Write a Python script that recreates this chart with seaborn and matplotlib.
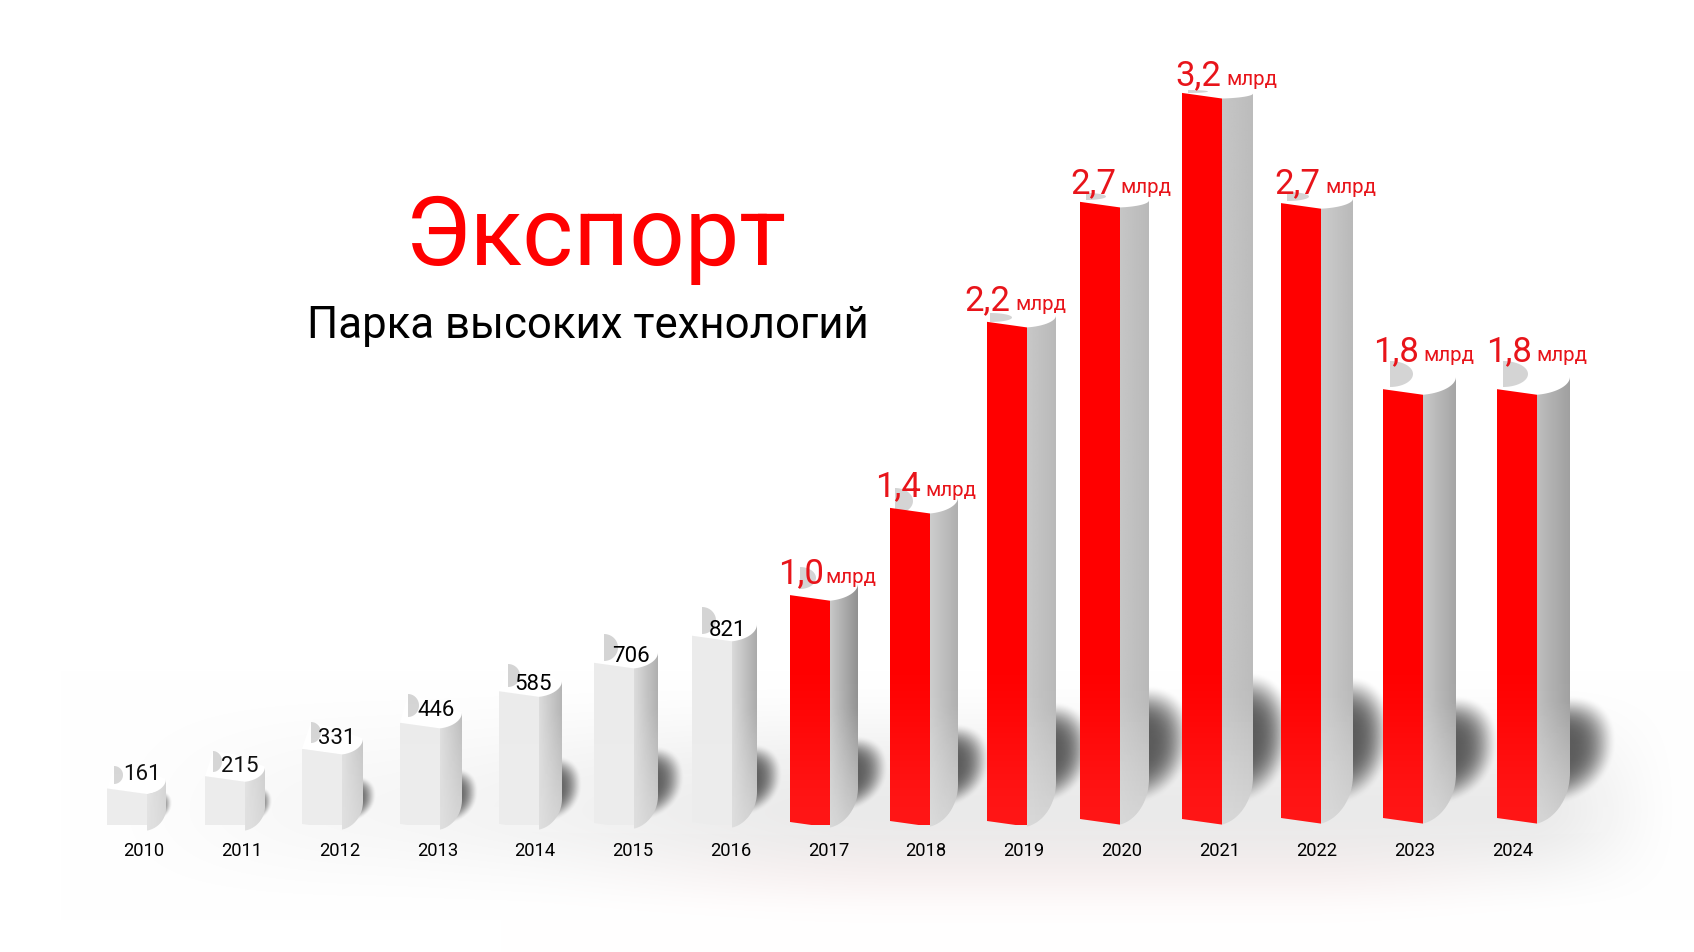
#!/usr/bin/env python3
"""Экспорт Парка высоких технологий - 3D-looking bars on a seaborn barplot"""

import numpy as np
import matplotlib
matplotlib.use('Agg')
import matplotlib.pyplot as plt
from matplotlib.patches import Polygon
from matplotlib.transforms import Affine2D
import seaborn as sns

# data (mln USD; bar heights, the rounded text is below)
years = [2010, 2011, 2012, 2013, 2014, 2015, 2016, 2017, 2018, 2019, 2020, 2021, 2022, 2023, 2024]
export_mln = [161, 215, 331, 446, 585, 706, 821, 1000, 1380, 2200, 2720, 3200, 2710, 1890, 1890]
small_labels = ['161', '215', '331', '446', '585', '706', '821']
big_labels = ['1,0', '1,4', '2,2', '2,7', '3,2', '2,7', '1,8', '1,8']

W, H = 1694, 952
BASE_Y = 825          # pixel row of value 0
PX_PER_UNIT = 0.2269
SLOT = 97.75
FIRST_TICK = 144
FRONT_W = 40
SHEAR = -0.14

# bars are not evenly spaced in the original, all of this is pixels
front_left = [107, 205, 302, 400, 499, 594, 692, 790, 890, 987, 1080, 1182, 1281, 1383, 1497]
base_left = [825, 825, 824, 824, 824, 823, 822, 822, 821, 821, 819, 819, 818, 818, 818]
side_w = [19, 20, 21, 22, 23, 24, 25, 28, 28, 29, 29, 31, 32, 33, 33]
top_rise = [15, 15, 16, 16, 16, 16, 17, 17, 16, 12, 7, 5, 10, 18, 18]
bottom_rise = [22, 24, 28, 30, 31, 33, 36, 40, 42, 44, 46, 48, 49, 50, 51]
side_light = [232, 228, 224, 222, 220, 220, 218, 200, 205, 200, 198, 198, 204, 200, 190]
side_dark = [200, 196, 190, 186, 180, 175, 170, 145, 175, 185, 185, 188, 185, 165, 160]

lens_x = [114, 213, 311, 408, 508, 604, 702, 800, 895, 990, 1086, 1188, 1287, 1390, 1503]
lens_w = [9, 9, 10, 11, 12, 14, 14, 16, 18, 22, 20, 20, 22, 23, 25]
lens_top = [766, 751, 722, 694, 664, 634, 607, 567, 488, 313, 193, 90, 192, 361, 361]
lens_bot = [784, 772, 743, 717, 687, 661, 634, 589, 514, 322, 200, 93, 201, 387, 387]

# shadow: reach to the right, top row, bottom row
shadow_reach = [172, 272, 376, 478, 582, 684, 782, 888, 990, 1092, 1192, 1292, 1392, 1498, 1616]
shadow_top = [790, 786, 776, 768, 756, 746, 744, 736, 724, 702, 686, 672, 676, 696, 696]
shadow_bot = [822, 822, 822, 824, 822, 820, 816, 812, 808, 805, 805, 805, 805, 805, 805]

small_x = [142, 240, 337, 436, 533, 631, 728]
small_y = [775, 767, 738, 710, 685, 657, 631]
big_x = [778, 875, 964, 1070, 1175, 1274, 1373, 1486]
big_unit_x = [825, 925, 1015, 1120, 1226, 1325, 1423, 1536]
big_y = [583, 496, 310, 193, 85, 193, 361, 361]

RED = '#ff0000'
sns.set_theme(style='white')
plt.rcParams['font.family'] = ['Roboto', 'DejaVu Sans']


def arc(x0, y0, w, rise, n=24):
    """Quarter curve from the front corner up to the vertical edge of the side"""
    t = np.linspace(0.0, np.pi / 2, n)
    return x0 + w * np.sin(t), y0 - rise * (0.25 * t / (np.pi / 2) + 0.75 * (1 - np.cos(t)))


def smooth(v):
    v = np.clip(v, 0, 1)
    return v * v * (3 - 2 * v)


fig = plt.figure(figsize=(W / 100, H / 100), dpi=100, facecolor='white')

# pixel layer underneath: floor, shadows, side faces
bg = fig.add_axes([0, 0, 1, 1])
yy, xx = np.mgrid[0:H, 0:W]
ramp = (0.35 * smooth((xx - 60) / 300.0) + 0.65 * smooth((xx - 300) / 600.0)) * smooth((1694 - xx) / 170.0)
haze = 0.085 * ramp * smooth(1 - np.abs(yy - 810) / np.where(yy < 810, 140.0, 110.0))
shade = np.ones((H, W))
for i in range(len(years)):
    right = front_left[i] + FRONT_W + side_w[i]
    cx = right - 14
    rx = shadow_reach[i] - cx
    cy = (shadow_top[i] + shadow_bot[i]) / 2
    ry = (shadow_bot[i] - shadow_top[i]) / 2
    # tilted so the foot of the blob runs down to the corner of the bar
    dy = yy - cy + 0.18 * (xx - cx)
    d = (np.abs(xx - cx) / rx) ** 2.2 + (np.abs(dy) / ry) ** 2.2
    shade *= 1 - 0.66 * smooth((1 - d) / 1.0)
rgb = np.dstack([shade * (1 - haze)] * 3)
pink = 0.025 * smooth((xx - 500) / 400.0) * smooth((1600 - xx) / 300.0) * np.exp(-((yy - 875) / 35.0) ** 2)
rgb[..., 1] -= pink
rgb[..., 2] -= pink
bg.imshow(np.clip(rgb, 0, 1), extent=(0, W, H, 0), aspect='auto', zorder=0, interpolation='nearest')

# front faces are the seaborn bars
ax = fig.add_axes([0, 1 - BASE_Y / H, 1, BASE_Y / H])
ax.patch.set_alpha(0)
sns.barplot(x=years, y=export_mln, color='#ebebeb', width=FRONT_W / SLOT, saturation=1, ax=ax)
ax.set_xlim(-FIRST_TICK / SLOT, (W - FIRST_TICK) / SLOT)
ax.set_ylim(0, BASE_Y / PX_PER_UNIT)
ax.set_yticks([])
ax.tick_params(axis='x', length=0, pad=12, labelsize=13.2, labelcolor='black')
sns.despine(ax=ax, left=True, bottom=True)

for i, bar in enumerate(ax.patches):
    bar.set_facecolor(RED if i >= 7 else '#ebebeb')
    bar.set_edgecolor('none')
    x0 = ax.transData.transform((bar.get_x(), 0))[0]
    dx = front_left[i] - x0
    dy = BASE_Y - base_left[i]
    shear = Affine2D.from_values(1, SHEAR, 0, 1, dx, -SHEAR * x0 + dy)
    bar.set_transform(ax.transData + shear)

    # px corners of the top edge
    h_px = export_mln[i] * PX_PER_UNIT
    xl = front_left[i]
    xr = xl + FRONT_W
    yt_l = base_left[i] - h_px
    yt_r = yt_l + FRONT_W * abs(SHEAR)
    yb_r = base_left[i] + FRONT_W * abs(SHEAR)

    # white top surface
    tx, ty = arc(xr, yt_r, side_w[i], top_rise[i])
    top = np.column_stack([np.r_[xl, tx, xl + 30, lens_x[i]], np.r_[yt_l, ty, yt_l - 22, lens_top[i]]])
    bg.add_patch(Polygon(top, closed=True, fc='white', ec='none', zorder=2))

    # grey lens behind the top
    t = np.linspace(-np.pi / 2, np.pi / 2, 30)
    lmid = (lens_top[i] + lens_bot[i]) / 2
    lhalf = (lens_bot[i] - lens_top[i]) / 2
    lens = np.column_stack([lens_x[i] + lens_w[i] * np.cos(t), lmid + lhalf * np.sin(t)])
    bg.add_patch(Polygon(lens, closed=True, fc='#d4d4d4', ec='none', zorder=3))

    # curved side face, gradient image clipped to its outline
    bx, by = arc(xr, yb_r, side_w[i], bottom_rise[i])
    outline = np.column_stack([np.r_[tx, bx[::-1]], np.r_[ty, by[::-1]]])
    clip = Polygon(outline, closed=True, transform=bg.transData, fc='none', ec='none')
    bg.add_patch(clip)
    grad = np.linspace(side_light[i], side_dark[i], 64)[None, :] / 255.0
    vert = np.clip((np.linspace(ty.min(), yb_r, 64) - (yb_r - 120)) / 120.0, 0, 1)[:, None]
    img = grad + (0.86 - grad) * 0.7 * vert
    side = bg.imshow(img, cmap='gray', vmin=0, vmax=1, extent=(xr, xr + side_w[i], yb_r, ty.min()),
                     aspect='auto', zorder=4, interpolation='bilinear')
    side.set_clip_path(clip)

bg.set_xlim(0, W)
bg.set_ylim(H, 0)
bg.axis('off')

# fog over the foot of the bars, it lightens the red and the shadows
fog = fig.add_axes([0, 0, 1, 1], facecolor='none')
fog_alpha = 0.09 * smooth((yy - 640) / 190.0) * smooth((840 - yy) / 10.0)
fog.imshow(np.dstack([np.ones((H, W, 3)), fog_alpha]), extent=(0, W, H, 0), aspect='auto', interpolation='nearest')
fog.axis('off')

# value labels
for x, y, s in zip(small_x, small_y, small_labels):
    bg.text(x, y, s, ha='center', va='center', fontsize=16, color='black', zorder=6)
for x, ux, y, s in zip(big_x, big_unit_x, big_y, big_labels):
    bg.text(x, y, s, ha='left', va='baseline', fontsize=25, color='#e8141a', zorder=6)
    bg.text(ux, y, 'млрд', ha='left', va='baseline', fontsize=14.8, color='#e8141a', zorder=6)

bg.text(596, 265, 'Экспорт', ha='center', va='baseline', fontsize=70, color=RED, zorder=6)
bg.text(588, 338, 'Парка высоких технологий', ha='center', va='baseline', fontsize=31.5, color='black', zorder=6)

fig.savefig('out.png', dpi=100)
